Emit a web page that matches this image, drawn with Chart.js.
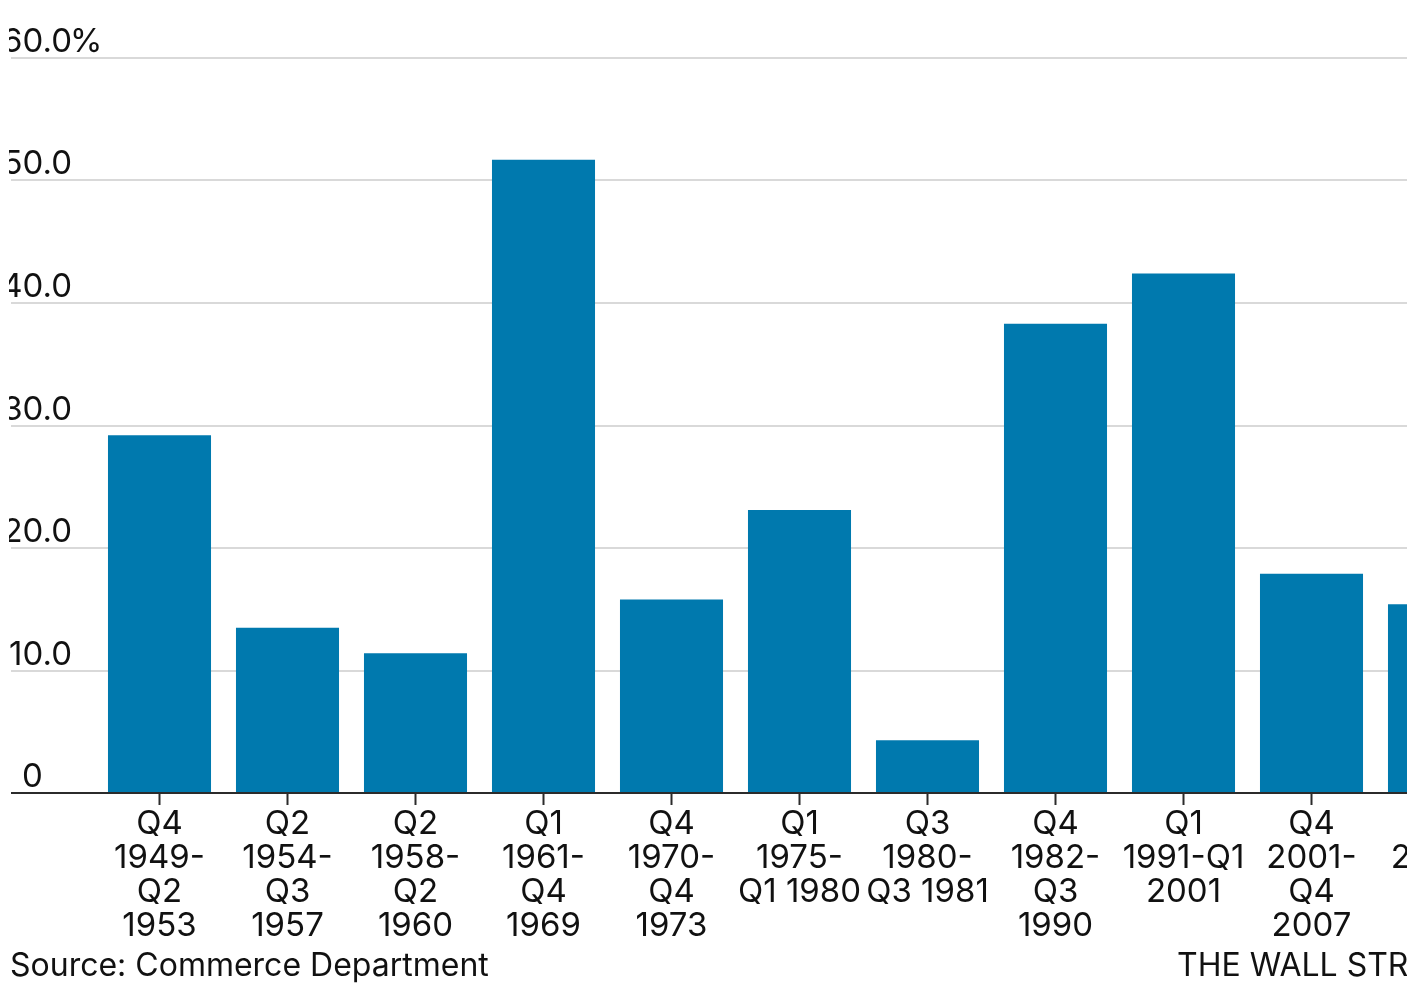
<!DOCTYPE html>
<html>
<head>
<meta charset="utf-8">
<script src="https://cdn.jsdelivr.net/npm/chart.js@4/dist/chart.umd.min.js"></script>
<style>
  html, body { margin: 0; padding: 0; background: #fff; overflow: hidden; }
  #wrap { position: relative; width: 1407px; height: 983px; overflow: hidden; }
  canvas { position: absolute; left: 0; top: 0; }
  .note { position: absolute; font-family: Inter, "Noto Sans", sans-serif; font-size: 32px; color: #111; white-space: nowrap; line-height: 1; }
</style>
</head>
<body>
<div id="wrap">
  <canvas id="c" width="1680" height="983"></canvas>
  <div class="note" id="src" style="left:10px; top:949px;">Source: Commerce Department</div>
  <div class="note" id="credit" style="left:1177px; top:949px;">THE WALL STREET JOURNAL.</div>
</div>
<script>
// Expansion periods (quarter ranges); the latest one is still open
const periods = [
  ["Q4", "1949-", "Q2", "1953"],
  ["Q2", "1954-", "Q3", "1957"],
  ["Q2", "1958-", "Q2", "1960"],
  ["Q1", "1961-", "Q4", "1969"],
  ["Q4", "1970-", "Q4", "1973"],
  ["Q1", "1975-", "Q1 1980"],
  ["Q3", "1980-", "Q3 1981"],
  ["Q4", "1982-", "Q3", "1990"],
  ["Q1", "1991-Q1", "2001"],
  ["Q4", "2001-", "Q4", "2007"],
  ["Q2", "2009-"]
];

// Cumulative growth over each expansion, percent
const growth = [29.2, 13.5, 11.4, 51.7, 15.8, 23.1, 4.3, 38.3, 42.4, 17.9, 15.4];

// Value axis ticks and their printed labels (number part + unit suffix)
const yTicks = [0, 10, 20, 30, 40, 50, 60];
const yTickLabels = ["0", "10.0", "20.0", "30.0", "40.0", "50.0", "60.0"];
const yTickSuffix = ["", "", "", "", "", "", "%"];

const FONT = "Inter, 'Noto Sans', sans-serif";
const BAR = "#0079ae";
const GRID = "#d9d9d9";
const AXIS = "#2b2b2b";
const TEXT = "#111111";

const GRID_LEFT = 11;
const LABEL_CLIP = 9;
const LABEL_RIGHT = 72;

// Horizontal grid lines, tick labels above them, and the zero baseline
const valueGrid = {
  id: "valueGrid",
  beforeDatasetsDraw(chart) {
    const { ctx, scales: { y } } = chart;
    const right = chart.width;
    ctx.save();
    yTicks.forEach((v) => {
      if (v === 0) return;
      const py = Math.round(y.getPixelForValue(v));
      ctx.strokeStyle = GRID;
      ctx.lineWidth = 2;
      ctx.beginPath();
      ctx.moveTo(GRID_LEFT, py);
      ctx.lineTo(right, py);
      ctx.stroke();
    });
    ctx.beginPath();
    ctx.rect(LABEL_CLIP, 0, right, chart.height);
    ctx.clip();
    ctx.fillStyle = TEXT;
    ctx.font = "33px " + FONT;
    ctx.textBaseline = "alphabetic";
    yTicks.forEach((v, i) => {
      const py = Math.round(y.getPixelForValue(v)) - 6;
      if (v === 0) {
        ctx.textAlign = "left";
        ctx.fillText(yTickLabels[i], 22, py);
        return;
      }
      ctx.textAlign = "right";
      ctx.fillText(yTickLabels[i], LABEL_RIGHT, py);
      if (yTickSuffix[i]) {
        ctx.textAlign = "left";
        ctx.fillText(yTickSuffix[i], LABEL_RIGHT - 2, py);
      }
    });
    ctx.restore();
  },
  afterDatasetsDraw(chart) {
    const { ctx, scales: { y } } = chart;
    const py = y.getPixelForValue(0);
    ctx.save();
    ctx.strokeStyle = AXIS;
    ctx.lineWidth = 2;
    ctx.beginPath();
    ctx.moveTo(GRID_LEFT, py);
    ctx.lineTo(chart.width, py);
    ctx.stroke();
    ctx.restore();
  }
};

new Chart(document.getElementById("c"), {
  type: "bar",
  data: {
    labels: periods,
    datasets: [{
      data: growth,
      backgroundColor: BAR,
      borderWidth: 0,
      barPercentage: 0.805,
      categoryPercentage: 1.0
    }]
  },
  options: {
    responsive: false,
    animation: false,
    layout: { padding: { left: 95.5, right: 176.5, top: 58, bottom: 0 } },
    plugins: { legend: { display: false }, tooltip: { enabled: false } },
    scales: {
      x: {
        type: "category",
        offset: true,
        border: { display: false },
        grid: {
          offset: false,
          drawOnChartArea: false,
          drawTicks: true,
          tickLength: 12,
          tickWidth: 2,
          tickColor: AXIS
        },
        ticks: {
          maxRotation: 0,
          autoSkip: false,
          padding: 2,
          color: TEXT,
          font: { family: FONT, size: 33, lineHeight: "34px" }
        },
        afterFit(scale) { scale.height = 190; }
      },
      y: {
        display: false,
        min: 0,
        max: 60
      }
    }
  },
  plugins: [valueGrid]
});
</script>
</body>
</html>
